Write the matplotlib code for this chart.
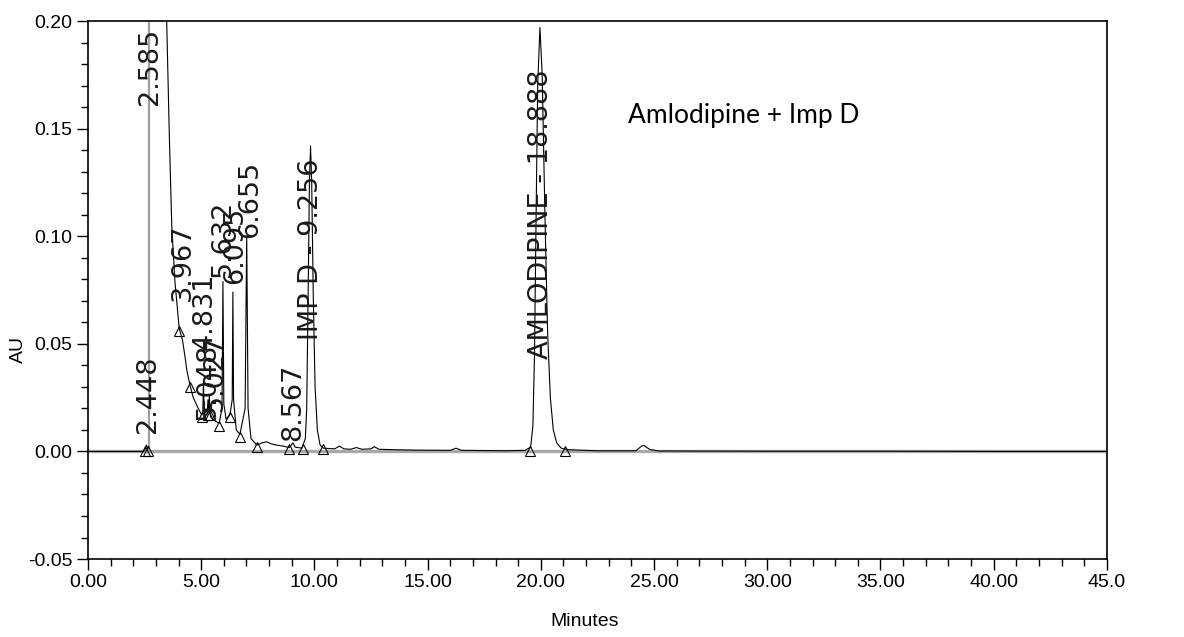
import matplotlib
matplotlib.use("Agg")
import matplotlib.pyplot as plt
from matplotlib.ticker import FixedLocator, FixedFormatter, MultipleLocator

nan = float("nan")

# chromatogram trace (minutes as drawn on the axis, AU)
trace_t = [0.0, 2.45, 2.52, 2.58, 2.64, 2.68, 3.00, 3.476, 3.59, 3.70, 3.84,
           4.03, 4.17, 4.30, 4.36, 4.50, 4.65, 4.87, 5.02,
           5.07, 5.10, 5.13, 5.18, 5.26, 5.30, 5.33, 5.36, 5.39, 5.42, 5.50,
           5.79, 5.92, 5.96, 6.00, 6.10, 6.27, 6.37, 6.40, 6.43, 6.55, 6.71,
           6.94, 7.01, 7.07, 7.20, 7.45, 7.70, 7.89, 8.10, 8.30, 8.60, 8.89,
           8.98, 9.05, 9.15, 9.45, 9.60, 9.66, 9.72, 9.78, 9.83, 9.88, 9.95,
           10.03, 10.13, 10.25, 10.40, 10.90, 11.10, 11.30, 11.60, 11.85, 12.10,
           12.50, 12.65, 12.85, 13.50, 14.50, 16.00, 16.25, 16.50, 17.50, 18.50,
           19.30, 19.55, 19.65, 19.72, 19.78, 19.86, 19.96, 20.06, 20.18, 20.30,
           20.42, 20.55, 20.70, 20.90, 21.20, 22.50, 24.20, 24.45, 24.55, 24.80,
           25.20, 30.00, 35.00, 40.00, 45.00]
trace_au = [0.0, 0.0, 0.001, 0.003, 0.0015, 0.002, nan, 0.200, 0.148, 0.105, 0.079,
            0.057, 0.052, 0.043, 0.038, 0.031, 0.025, 0.020, 0.017,
            0.018, 0.033, 0.018, 0.017, 0.017, 0.024, 0.018, 0.026, 0.018, 0.016, 0.015,
            0.013, 0.020, 0.079, 0.022, 0.015, 0.017, 0.024, 0.074, 0.024, 0.010, 0.008,
            0.020, 0.0999, 0.020, 0.006, 0.003, 0.004, 0.0045, 0.0035, 0.003, 0.0025, 0.0018,
            0.003, 0.004, 0.002, 0.0015, 0.006, 0.020, 0.070, 0.125, 0.142, 0.125, 0.072,
            0.030, 0.010, 0.003, 0.0015, 0.0012, 0.0025, 0.0012, 0.0010, 0.0018, 0.0010,
            0.0012, 0.0022, 0.0010, 0.0008, 0.0006, 0.0005, 0.0015, 0.0005, 0.0004, 0.0003,
            0.0005, 0.002, 0.012, 0.045, 0.100, 0.170, 0.197, 0.175, 0.110, 0.055,
            0.025, 0.010, 0.004, 0.0015, 0.0008, 0.0003, 0.0003, 0.0025, 0.0028, 0.001,
            0.0002, 0.0001, 0.0001, 0.0, 0.0]

# peak start / end markers
mark_t = [2.52, 2.63, 4.03, 4.50, 5.02, 5.30, 5.39, 5.79, 6.27, 6.71, 7.45, 8.89, 9.51, 10.39, 19.52, 21.07]
mark_au = [0.0, 0.0, 0.056, 0.030, 0.016, 0.017, 0.0167, 0.012, 0.016, 0.0066, 0.002, 0.001, 0.001, 0.001, 0.0, 0.0]

# peak labels: text, position on axis, lower end of the label
peak_names = ["2.448", "2.585", "3.967", "4.831", "5.048", "5.027", "5.632", "6.095",
              "6.655", "8.567", "IMP D - 9.256", "AMLODIPINE - 18.888"]
label_t = [2.65, 2.74, 4.20, 5.17, 5.30, 5.61, 5.96, 6.49, 7.16, 9.05, 9.85, 20.0]
label_au = [0.0084, 0.161, 0.070, 0.047, 0.0144, 0.019, 0.081, 0.0776, 0.0994, 0.005, 0.0516, 0.043]

x_ticks = [0, 5, 10, 15, 20, 25, 30, 35, 40, 45]
x_labels = ["0.00", "5.00", "10.00", "15.00", "20.00", "25.00", "30.00", "35.00", "40.00", "45.0"]
y_ticks = [-0.05, 0.0, 0.05, 0.10, 0.15, 0.20]
y_labels = ["-0.05", "0.00", "0.05", "0.10", "0.15", "0.20"]

tick_font = ["Liberation Sans", "DejaVu Sans"]

fig = plt.figure(figsize=(11.84, 6.37), dpi=100)
ax = fig.add_axes([0.0743, 0.1224, 0.8606, 0.8446])

# gray integration baseline and the solvent front rise
ax.plot([0, 45], [0, 0], color="#a8a8a8", lw=2.4, zorder=1)
ax.plot([2.69, 2.69], [0, 0.5], color="#a0a0a0", lw=1.6, zorder=1)
ax.plot(trace_t, trace_au, color="black", lw=0.8, zorder=2)
ax.plot(mark_t, mark_au, linestyle="none", marker="^", ms=7.5, mfc="none", mec="black", mew=0.8, zorder=3)

for name, t, au in zip(peak_names, label_t, label_au):
    ax.text(t, au, name, rotation=90, ha="center", va="bottom", fontsize=19.5,
            family="DejaVu Sans", color="#1a1a1a", zorder=4)

ax.text(23.85, 0.156, "Amlodipine + Imp D", fontsize=19, family="Lato", va="center", ha="left")

ax.set_xlim(0, 45)
ax.set_ylim(-0.05, 0.20)
ax.xaxis.set_major_locator(FixedLocator(x_ticks))
ax.xaxis.set_major_formatter(FixedFormatter(x_labels))
ax.yaxis.set_major_locator(FixedLocator(y_ticks))
ax.yaxis.set_major_formatter(FixedFormatter(y_labels))
ax.xaxis.set_minor_locator(MultipleLocator(1))
ax.yaxis.set_minor_locator(MultipleLocator(0.01))
ax.tick_params(which="major", direction="out", length=8, width=1, pad=3)
ax.tick_params(which="minor", direction="out", length=5, width=1)
for lab in ax.get_xticklabels() + ax.get_yticklabels():
    lab.set_family(tick_font)
    lab.set_fontsize(14)
for sp in ax.spines.values():
    sp.set_linewidth(1.2)

ax.set_xlabel("Minutes", family=tick_font, fontsize=14)
ax.xaxis.set_label_coords(0.487, -0.10)
ax.set_ylabel("AU", family=tick_font, fontsize=14)
ax.yaxis.set_label_coords(-0.060, 0.39)

fig.savefig("out.png", dpi=100)
